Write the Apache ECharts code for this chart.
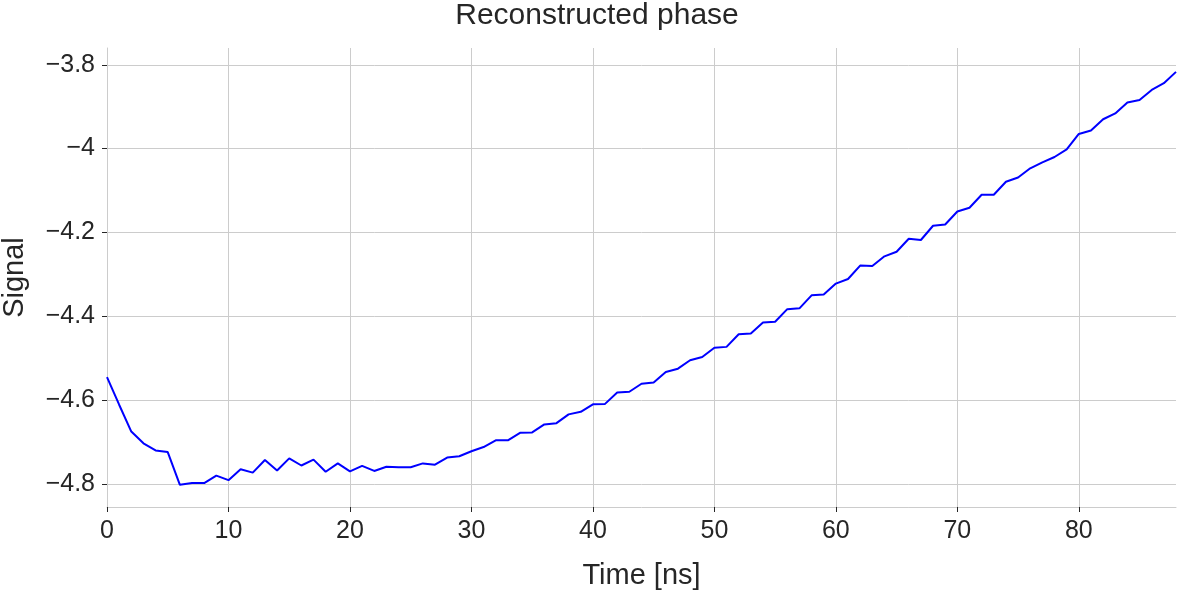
<!DOCTYPE html>
<html>
<head>
<meta charset="utf-8">
<script src="https://cdn.jsdelivr.net/npm/echarts@6/dist/echarts.min.js"></script>
<style>
html,body{margin:0;padding:0;background:#fff;}
#chart{width:1194px;height:596px;}
</style>
</head>
<body>
<div id="chart"></div>
<script>
const timeNs = [];
for (let i = 0; i <= 88; i++) timeNs.push(i);

const signal = [
  -4.545, -4.611, -4.675, -4.703, -4.720, -4.724, -4.802, -4.798, -4.798, -4.780,
  -4.791, -4.765, -4.773, -4.743, -4.768, -4.739, -4.756, -4.742, -4.771, -4.751,
  -4.770, -4.757, -4.769, -4.759, -4.760, -4.760, -4.751, -4.754, -4.737, -4.734,
  -4.722, -4.712, -4.696, -4.696, -4.678, -4.677, -4.658, -4.655, -4.634, -4.628,
  -4.610, -4.609, -4.582, -4.580, -4.561, -4.558, -4.533, -4.525, -4.505, -4.497,
  -4.475, -4.473, -4.443, -4.441, -4.415, -4.413, -4.383, -4.381, -4.350, -4.348,
  -4.322, -4.311, -4.279, -4.280, -4.257, -4.246, -4.215, -4.218, -4.184, -4.181,
  -4.150, -4.141, -4.110, -4.110, -4.079, -4.069, -4.047, -4.033, -4.020, -4.002,
  -3.965, -3.957, -3.930, -3.916, -3.890, -3.884, -3.860, -3.844, -3.817
];

const xTicks = [0, 10, 20, 30, 40, 50, 60, 70, 80];
const yTicks = [-4.8, -4.6, -4.4, -4.2, -4.0, -3.8];

const titleText = 'Reconstructed phase';
const xName = 'Time [ns]';
const yName = 'Signal';

const FONT = '"Liberation Sans", Arial, sans-serif';
const TXT = '#262626';
const GRID = '#cccccc';

function fmtY(v) {
  let s = String(Math.round(v * 10) / 10);
  return s.replace('-', '\u2212');
}

const chart = echarts.init(document.getElementById('chart'), null, {renderer: 'canvas'});
chart.setOption({
  animation: false,
  backgroundColor: '#ffffff',
  title: {
    text: titleText,
    left: 'center',
    top: -4,
    textStyle: {fontFamily: FONT, fontSize: 30, fontWeight: 'normal', color: TXT}
  },
  grid: {left: 107, right: 18, top: 48, bottom: 89, containLabel: false, outerBoundsMode: 'none'},
  xAxis: {
    type: 'value',
    min: 0,
    max: 88,
    name: xName,
    nameLocation: 'middle',
    nameGap: 54,
    nameTextStyle: {fontFamily: FONT, fontSize: 29, color: TXT},
    axisLine: {show: true, onZero: false, lineStyle: {color: GRID, width: 1}},
    axisTick: {show: true, inside: false, length: 5, customValues: xTicks, lineStyle: {color: TXT, width: 1}},
    axisLabel: {customValues: xTicks, margin: 12, fontFamily: FONT, fontSize: 25, color: TXT},
    splitLine: {show: true, lineStyle: {color: GRID, width: 1}}
  },
  yAxis: {
    type: 'value',
    min: -4.855,
    max: -3.76,
    name: yName,
    nameLocation: 'middle',
    nameGap: 78,
    nameRotate: 90,
    nameTextStyle: {fontFamily: FONT, fontSize: 29, color: TXT},
    axisLine: {show: true, onZero: false, lineStyle: {color: GRID, width: 1}},
    axisTick: {show: true, inside: false, length: 5, customValues: yTicks, lineStyle: {color: TXT, width: 1}},
    axisLabel: {customValues: yTicks, margin: 12, fontFamily: FONT, fontSize: 25, color: TXT, formatter: fmtY},
    splitLine: {show: true, lineStyle: {color: GRID, width: 1}}
  },
  series: [{
    type: 'line',
    data: timeNs.map((t, i) => [t, signal[i]]),
    showSymbol: false,
    symbol: 'none',
    lineStyle: {color: '#0000ff', width: 2},
    itemStyle: {color: '#0000ff'},
    clip: true
  }]
});
</script>
</body>
</html>
